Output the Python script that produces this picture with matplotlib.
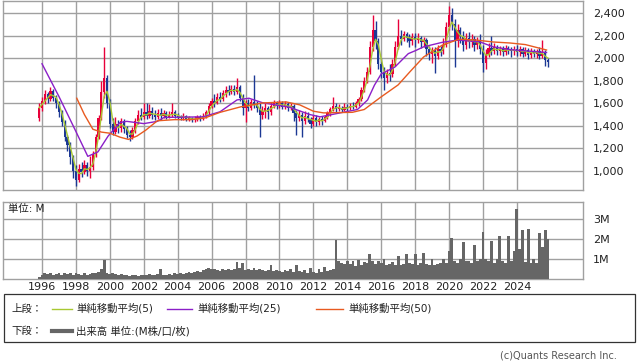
import numpy as np
import pandas as pd
import matplotlib
matplotlib.use('Agg')
import matplotlib.pyplot as plt
from matplotlib.lines import Line2D
from matplotlib.patches import Rectangle

plt.rcParams['font.family'] = ['DejaVu Sans', 'Noto Sans CJK JP']

# ---------------- data (bi-monthly candles, first bar Oct 1995) ----------------
start = '1995-10-01'
opens = [1470, 1560,
         1620, 1680, 1640, 1710, 1650, 1600,
         1520, 1430, 1300, 1230, 1120, 1000,
         920, 1020, 990, 1050, 1000, 1040,
         1150, 1300, 1470, 1700, 1820, 1600,
         1420, 1350, 1420, 1380, 1440, 1370,
         1320, 1300, 1360, 1440, 1500, 1480,
         1520, 1490, 1530, 1500, 1480, 1510,
         1490, 1510, 1480, 1500, 1520, 1490,
         1480, 1470, 1490, 1460, 1470, 1450,
         1460, 1480, 1460, 1490, 1520, 1580,
         1620, 1600, 1660, 1640, 1690, 1720,
         1700, 1730, 1700, 1740, 1650, 1560,
         1600, 1560, 1610, 1590, 1560, 1500,
         1530, 1560, 1520, 1580, 1600, 1580,
         1600, 1570, 1590, 1560, 1580, 1510,
         1470, 1500, 1440, 1490, 1460, 1420,
         1470, 1430, 1460, 1440, 1480, 1510,
         1550, 1580, 1550, 1560, 1540, 1570,
         1560, 1580, 1570, 1600, 1640, 1720,
         1800, 1880, 2100, 2250, 2150, 1950,
         1880, 1820, 1870, 1860, 1950, 2100,
         2200, 2170, 2210, 2180, 2150, 2190,
         2160, 2180, 2140, 2160, 2080, 2040,
         2070, 2020, 2080, 2060, 2120, 2280,
         2380, 2300, 2150, 2250, 2200, 2120,
         2180, 2140, 2170, 2120, 2150, 2080,
         1960, 2040, 2090, 2060, 2100, 2060,
         2080, 2050, 2090, 2070, 2060, 2080,
         2050, 2080, 2040, 2070, 2030, 2060,
         2040, 2060, 2020, 2050, 1980]
highs = [1600, 1660,
         1720, 1700, 1740, 1730, 1670, 1620,
         1540, 1450, 1320, 1260, 1140, 1050,
         1060, 1080, 1100, 1080, 1130, 1180,
         1330, 1500, 1800, 2100, 1850, 1640,
         1470, 1480, 1450, 1470, 1460, 1400,
         1360, 1390, 1470, 1540, 1560, 1600,
         1600, 1590, 1570, 1540, 1550, 1560,
         1540, 1530, 1530, 1600, 1540, 1510,
         1500, 1510, 1500, 1490, 1480, 1490,
         1500, 1500, 1510, 1540, 1600, 1650,
         1680, 1690, 1700, 1720, 1750, 1760,
         1760, 1760, 1820, 1760, 1680, 1630,
         1640, 1640, 1850, 1620, 1600, 1580,
         1600, 1580, 1610, 1630, 1620, 1630,
         1620, 1620, 1610, 1600, 1590, 1540,
         1540, 1520, 1530, 1520, 1480, 1500,
         1500, 1480, 1490, 1500, 1530, 1570,
         1660, 1600, 1590, 1580, 1600, 1590,
         1600, 1610, 1620, 1660, 1740, 1830,
         1920, 2150, 2380, 2330, 2180, 2000,
         1920, 1900, 1950, 1990, 2150, 2350,
         2250, 2240, 2230, 2210, 2220, 2220,
         2220, 2200, 2190, 2180, 2110, 2100,
         2100, 2120, 2110, 2180, 2320, 2460,
         2440, 2350, 2300, 2280, 2240, 2220,
         2230, 2210, 2200, 2190, 2210, 2120,
         2080, 2130, 2200, 2130, 2120, 2110,
         2110, 2120, 2110, 2100, 2110, 2120,
         2110, 2100, 2100, 2090, 2090, 2080,
         2080, 2100, 2160, 2070, 2000]
lows = [1440, 1530,
        1590, 1600, 1620, 1620, 1560, 1480,
        1400, 1270, 1180, 1060, 940, 870,
        900, 950, 970, 960, 940, 1010,
        1120, 1280, 1450, 1650, 1560, 1380,
        1320, 1330, 1340, 1350, 1340, 1290,
        1270, 1280, 1340, 1420, 1450, 1460,
        1460, 1470, 1460, 1450, 1460, 1450,
        1470, 1460, 1470, 1480, 1470, 1460,
        1450, 1450, 1440, 1440, 1430, 1430,
        1440, 1440, 1450, 1470, 1500, 1560,
        1570, 1590, 1610, 1620, 1660, 1670,
        1680, 1670, 1680, 1620, 1500, 1430,
        1530, 1540, 1560, 1520, 1300, 1460,
        1470, 1460, 1500, 1560, 1550, 1560,
        1550, 1550, 1530, 1540, 1440, 1320,
        1440, 1300, 1420, 1430, 1380, 1400,
        1400, 1410, 1410, 1430, 1460, 1490,
        1530, 1520, 1530, 1520, 1530, 1530,
        1540, 1550, 1560, 1580, 1620, 1700,
        1780, 1860, 2060, 2080, 1900, 1820,
        1720, 1780, 1800, 1830, 1930, 2080,
        2120, 2150, 2140, 2100, 2120, 2100,
        2130, 2090, 2100, 2020, 1980, 1960,
        1870, 1990, 2020, 2040, 2100, 2250,
        2250, 1920, 2100, 2130, 2060, 2080,
        2090, 2100, 2060, 2080, 2040, 1880,
        1900, 2010, 2030, 2040, 2030, 2030,
        2020, 2030, 2040, 2010, 2030, 2020,
        2020, 2010, 2020, 1990, 2000, 2010,
        2000, 1990, 2000, 1930, 1920]
closes = [1560, 1620,
          1680, 1640, 1710, 1650, 1600, 1520,
          1430, 1300, 1230, 1120, 1000, 920,
          1020, 990, 1050, 1000, 1040, 1150,
          1300, 1470, 1700, 1820, 1600, 1420,
          1350, 1420, 1380, 1440, 1370, 1320,
          1300, 1360, 1440, 1500, 1480, 1520,
          1490, 1530, 1500, 1480, 1510, 1490,
          1510, 1480, 1500, 1520, 1490, 1480,
          1470, 1490, 1460, 1470, 1450, 1460,
          1480, 1460, 1490, 1520, 1580, 1620,
          1600, 1660, 1640, 1690, 1720, 1700,
          1730, 1700, 1740, 1650, 1560, 1600,
          1560, 1610, 1590, 1560, 1500, 1530,
          1560, 1520, 1580, 1600, 1580, 1600,
          1570, 1590, 1560, 1580, 1510, 1470,
          1500, 1440, 1490, 1460, 1420, 1470,
          1430, 1460, 1440, 1480, 1510, 1550,
          1580, 1550, 1560, 1540, 1570, 1560,
          1580, 1570, 1600, 1640, 1720, 1800,
          1880, 2100, 2250, 2150, 1950, 1880,
          1820, 1870, 1860, 1950, 2100, 2200,
          2170, 2210, 2180, 2150, 2190, 2160,
          2180, 2140, 2160, 2080, 2040, 2070,
          2020, 2080, 2060, 2120, 2280, 2380,
          2300, 2150, 2250, 2200, 2120, 2180,
          2140, 2170, 2120, 2150, 2080, 1960,
          2040, 2090, 2060, 2100, 2060, 2080,
          2050, 2090, 2070, 2060, 2080, 2050,
          2080, 2040, 2070, 2030, 2060, 2040,
          2060, 2020, 2050, 1980, 1970]
volumes = [0.10, 0.20,
           0.30, 0.25, 0.30, 0.20, 0.25, 0.30,
           0.20, 0.30, 0.25, 0.30, 0.20, 0.30,
           0.25, 0.20, 0.30, 0.20, 0.25, 0.30,
           0.30, 0.35, 0.50, 0.95, 0.30, 0.25,
           0.30, 0.25, 0.20, 0.25, 0.20, 0.20,
           0.15, 0.20, 0.20, 0.15, 0.20, 0.20,
           0.20, 0.25, 0.20, 0.20, 0.25, 0.50,
           0.20, 0.20, 0.25, 0.20, 0.30, 0.25,
           0.30, 0.25, 0.30, 0.35, 0.30, 0.35,
           0.40, 0.35, 0.45, 0.50, 0.55, 0.50,
           0.50, 0.45, 0.40, 0.50, 0.45, 0.50,
           0.45, 0.50, 0.85, 0.55, 0.80, 0.45,
           0.50, 0.45, 0.55, 0.45, 0.50, 0.45,
           0.40, 0.45, 0.70, 0.40, 0.45, 0.40,
           0.35, 0.45, 0.40, 0.50, 0.35, 0.70,
           0.40, 0.35, 0.45, 0.30, 0.55, 0.35,
           0.30, 0.50, 0.35, 0.60, 0.40, 0.45,
           0.50, 1.95, 0.90, 0.80, 0.75, 0.90,
           0.75, 0.90, 0.65, 0.95, 0.70, 0.85,
           0.80, 1.25, 0.90, 0.75, 0.90, 0.80,
           1.00, 0.70, 0.75, 0.85, 0.70, 1.15,
           0.70, 0.75, 1.25, 0.80, 0.75, 1.25,
           0.70, 0.80, 1.30, 0.75, 0.70, 1.00,
           0.70, 0.75, 0.80, 1.00, 0.80, 1.40,
           2.05, 0.90, 0.80, 1.00, 1.85, 0.90,
           0.90, 0.80, 1.70, 0.90, 1.00, 2.35,
           1.00, 0.90, 1.90, 0.80, 1.00, 2.15,
           0.90, 0.80, 2.15, 0.90, 1.40, 3.50,
           1.50, 2.45, 0.85, 2.50, 0.80, 1.00,
           0.80, 2.30, 1.60, 2.45, 2.00]

# moving averages (year, value)
ma25_t = [1996.0, 1997.0, 1998.0, 1998.7, 1999.3, 1999.9, 2000.6, 2001.0, 2002.0,
          2002.8, 2003.2, 2005.5, 2006.5, 2007.5, 2008.2, 2009.0, 2009.8, 2010.6,
          2011.8, 2012.4, 2014.6, 2015.2, 2015.6, 2016.0, 2016.8, 2017.6, 2018.0,
          2018.5, 2019.6, 2020.5, 2021.8, 2022.6, 2023.6, 2025.75]
ma25_v = [1950, 1660, 1350, 1130, 1170, 1310, 1430, 1440, 1420,
          1440, 1475, 1480, 1525, 1630, 1645, 1605, 1585, 1565,
          1500, 1480, 1545, 1630, 1760, 1860, 1920, 2040, 2065,
          2100, 2140, 2160, 2145, 2100, 2075, 2050]
ma50_t = [1998.05, 1998.5, 1999.0, 1999.5, 2000.0, 2000.6, 2001.1, 2001.6, 2002.1,
          2002.8, 2003.8, 2004.8, 2005.6, 2006.5, 2007.7, 2009.0, 2010.4, 2011.2,
          2012.0, 2012.6, 2014.3, 2015.0, 2016.0, 2017.0, 2017.7, 2018.5, 2019.6,
          2020.6, 2021.6, 2022.6, 2023.6, 2024.5, 2025.75]
ma50_v = [1645, 1500, 1370, 1345, 1335, 1300, 1280, 1310, 1360,
          1445, 1455, 1455, 1470, 1520, 1568, 1603, 1612, 1586,
          1530, 1515, 1520, 1545, 1657, 1763, 1880, 2010, 2115,
          2168, 2160, 2143, 2134, 2120, 2072]

price_ticks = [1000, 1200, 1400, 1600, 1800, 2000, 2200, 2400]
vol_ticks = [1, 2, 3]
vol_labels = ['1M', '2M', '3M']
year_ticks = list(range(1996, 2025, 2))

# ---------------- figure ----------------
W, H = 638, 362
fig = plt.figure(figsize=(W / 100, H / 100), dpi=100)


def rect(l, t, r, b):
    return [l / W, 1 - b / H, (r - l) / W, (b - t) / H]


GRID = '#a0a0a0'
UP = '#e8003a'
DOWN = '#1c3894'

n = len(closes)
dates = pd.date_range(start, periods=n, freq='2MS')
xpos = np.asarray(dates.year + dates.month / 12.0, dtype=float)
o = np.array(opens, float)
c = np.array(closes, float)
h = np.array(highs, float)
l = np.array(lows, float)
cols = [UP if cc >= oo else DOWN for oo, cc in zip(o, c)]

ax = fig.add_axes(rect(3, 1, 583, 190))
axv = fig.add_axes(rect(3, 202, 583, 279))

for a in (ax, axv):
    a.set_xlim(1993.70, 2027.90)
    a.set_xticks(year_ticks)
    a.set_axisbelow(True)
    a.grid(True, color=GRID, lw=1.0)
    for s in a.spines.values():
        s.set_color(GRID)
        s.set_linewidth(1.0)
    a.yaxis.tick_right()
    a.tick_params(axis='y', length=0, pad=7, labelsize=8, colors='#222222')

# price panel
ax.set_ylim(832, 2506)
ax.set_yticks(price_ticks)
ax.set_yticklabels([f'{v:,}' for v in price_ticks])
ax.tick_params(axis='x', length=0, labelbottom=False)

ax.vlines(xpos, l, h, colors=cols, lw=1.0, zorder=2)
body = np.maximum(np.abs(c - o), 6)
ax.bar(xpos, body, bottom=np.minimum(o, c), width=0.13, color=cols, lw=0, zorder=3)

ma5 = pd.Series(c).rolling(3, min_periods=1).mean()
ax.plot(xpos, ma5, color='#a8c832', lw=1.0, zorder=4)
ax.plot(ma25_t, ma25_v, color='#8b1fc8', lw=1.0, zorder=4)
ax.plot(ma50_t, ma50_v, color='#e85a20', lw=1.0, zorder=4)

# volume panel
axv.set_ylim(0, 3.85)
axv.set_yticks(vol_ticks)
axv.set_yticklabels(vol_labels)
axv.bar(xpos, volumes, width=1 / 6, color='#666666', lw=0, zorder=3)
axv.set_xticklabels([str(y) for y in year_ticks])
axv.tick_params(axis='x', length=0, pad=2, labelsize=8, colors='#222222')

fig.text(8 / W, 1 - 209 / H, '単位: M', va='center', ha='left', fontsize=7.5,
         color='#222222')

# legend box
fig.add_artist(Rectangle((4 / W, 1 - 342 / H), 631 / W, 48 / H, transform=fig.transFigure,
                         fill=False, ec='#333333', lw=0.9))
ly1 = 1 - 308.5 / H
ly2 = 1 - 331 / H
fs = 7.5
fig.text(11 / W, ly1, '上段：', va='center', fontsize=fs, color='#222222')
fig.add_artist(Line2D([52 / W, 72 / W], [ly1, ly1], transform=fig.transFigure,
                      color='#a8c832', lw=1.0))
fig.text(76 / W, ly1, '単純移動平均(5)', va='center', fontsize=fs, color='#222222')
fig.add_artist(Line2D([167 / W, 192 / W], [ly1, ly1], transform=fig.transFigure,
                      color='#8b1fc8', lw=1.0))
fig.text(197 / W, ly1, '単純移動平均(25)', va='center', fontsize=fs, color='#222222')
fig.add_artist(Line2D([316 / W, 343 / W], [ly1, ly1], transform=fig.transFigure,
                      color='#e85a20', lw=1.0))
fig.text(348 / W, ly1, '単純移動平均(50)', va='center', fontsize=fs, color='#222222')

fig.text(11 / W, ly2, '下段：', va='center', fontsize=fs, color='#222222')
fig.add_artist(Line2D([52 / W, 72 / W], [ly2, ly2], transform=fig.transFigure,
                      color='#666666', lw=3.0))
fig.text(76 / W, ly2, '出来高 単位:(M株/口/枚)', va='center', fontsize=fs, color='#222222')

fig.text(617 / W, 1 - 355 / H, '(c)Quants Research Inc.', ha='right', va='center',
         fontsize=7, color='#555555')

fig.savefig('out.png', dpi=100)
